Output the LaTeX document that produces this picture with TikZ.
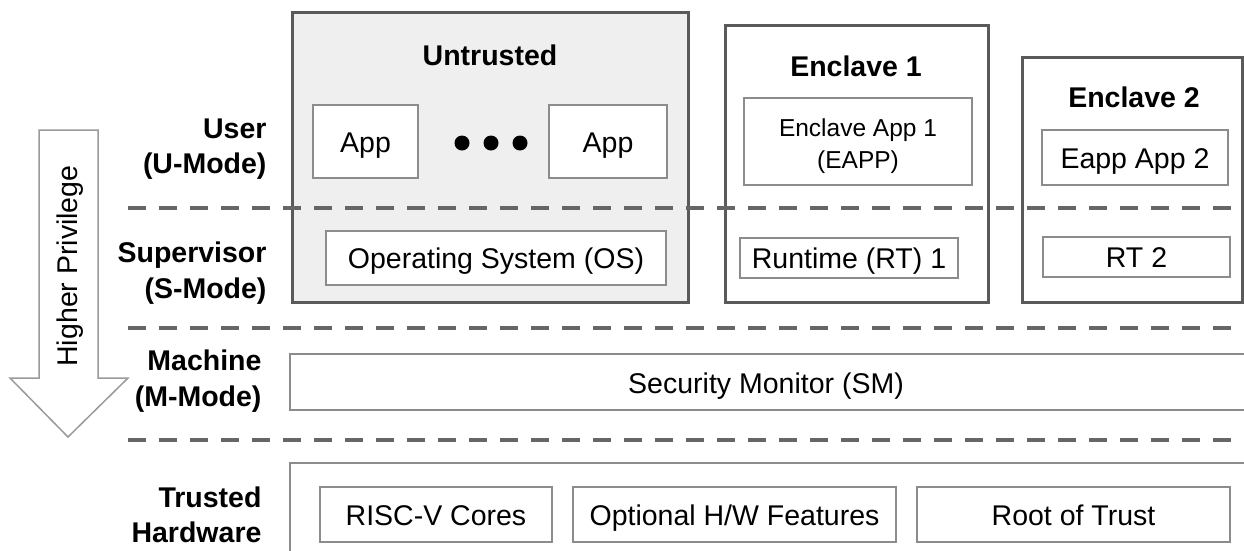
\documentclass[tikz,border=0pt]{standalone}
\usepackage{fontspec}
\setmainfont{Liberation Sans}
\definecolor{outerc}{HTML}{5A5A5A}
\definecolor{innerc}{HTML}{8C8C8C}
\definecolor{dashc}{HTML}{666666}
\definecolor{fillc}{HTML}{EFEFEF}
\definecolor{arrc}{HTML}{9A9A9A}
\newcommand{\fsbig}{\fontsize{28.5}{33}\selectfont}
\newcommand{\fslab}{\fontsize{28.5}{35.5}\selectfont}
\newcommand{\fssmall}{\fontsize{24.5}{32}\selectfont}
\begin{document}
\begin{tikzpicture}[x=1pt,y=-1pt,
  outerbox/.style={draw=outerc, line width=3pt, inner sep=0pt},
  inbox/.style={draw=innerc, line width=1.5pt, fill=white, inner sep=0pt, font=\fsbig, align=center},
  oneline/.style={text height=21pt, text depth=0pt},
  title/.style={font=\fsbig\bfseries},
  level/.style={font=\fslab\bfseries, align=right, anchor=east},
  sep/.style={draw=dashc, line width=4pt, dash pattern=on 18pt off 13pt},
  dot/.style={circle, fill=black, inner sep=0pt, minimum size=15pt}
]
\useasboundingbox (0,0) rectangle (1244,550);
\clip (0,0) rectangle (1244,550);

% outer boxes
\node[outerbox, fill=fillc, minimum width=396pt, minimum height=290pt] (untr) at (490,157) {};
\node[outerbox, fill=white, minimum width=263pt, minimum height=277pt] (enc1) at (856.5,163.5) {};
\node[outerbox, fill=white, minimum width=220pt, minimum height=245pt] (enc2) at (1132,179.5) {};

\node[title] (tuntr) at (490,55) {Untrusted};
\node[title] (tenc1) at (856,66) {Enclave 1};
\node[title] (tenc2) at (1134,97) {Enclave 2};

% user-level boxes
\node[inbox, oneline, minimum width=105pt, minimum height=73pt] (app1) at (365.5,141.5) {App};
\node[inbox, oneline, minimum width=118pt, minimum height=73pt] (app2) at (608,141.5) {App};
\node[dot] (d1) at (462,143) {};
\node[dot] (d2) at (491,143) {};
\node[dot] (d3) at (520,143) {};
\node[inbox, minimum width=228pt, minimum height=87pt] (eapp1) at (858,141.5) {};
\node[font=\fssmall, align=center] (eapp1t) at (858,146) {Enclave App 1\\(EAPP)};
\node[inbox, oneline, minimum width=186pt, minimum height=55pt] (eapp2) at (1135,157.5) {Eapp App 2};

% supervisor-level boxes
\node[inbox, oneline, minimum width=340pt, minimum height=54pt] (os) at (496,258) {Operating System (OS)};
\node[inbox, oneline, minimum width=218pt, minimum height=40pt] (rt1) at (849,258) {Runtime (RT) 1};
\node[inbox, oneline, minimum width=187pt, minimum height=40pt] (rt2) at (1136.5,257) {RT 2};

% machine
\node[inbox, minimum width=960pt, minimum height=56pt, anchor=west] (sm) at (289,382) {};
\node[font=\fsbig, oneline] (smt) at (766,383) {Security Monitor (SM)};

% hardware
\node[inbox, minimum width=960pt, minimum height=100pt, anchor=north west] (hw) at (289,462) {};
\node[inbox, oneline, minimum width=232pt, minimum height=55pt] (risc) at (436,514.5) {RISC-V Cores};
\node[inbox, oneline, minimum width=323pt, minimum height=55pt] (opt) at (734.5,514.5) {Optional H/W Features};
\node[inbox, oneline, minimum width=313pt, minimum height=55pt] (rot) at (1073.5,514.5) {Root of Trust};

% dashed separators
\coordinate (s1a) at (128,208); \coordinate (s1b) at (1250,208);
\coordinate (s2a) at (128,328); \coordinate (s2b) at (1250,328);
\coordinate (s3a) at (128,440); \coordinate (s3b) at (1250,440);
\draw[sep] (s1a) -- (s1b);
\draw[sep] (s2a) -- (s2b);
\draw[sep] (s3a) -- (s3b);

% level labels
\node[level] (lu) at (270,149) {User\\(U-Mode)};
\node[level] (ls) at (270,273) {Supervisor\\(S-Mode)};
\node[level] (lm) at (265,381) {Machine\\(M-Mode)};
\node[level] (lh) at (265,515) {Trusted\\Hardware};

% privilege arrow
\draw[draw=arrc, line width=1.5pt, fill=white, line join=miter]
  (39,130) -- (98,130) -- (98,378) -- (128,378) -- (68,437) -- (10,378) -- (39,378) -- cycle;
\node[font=\fsbig, rotate=90] (priv) at (70,266) {Higher Privilege};
\end{tikzpicture}
\end{document}
